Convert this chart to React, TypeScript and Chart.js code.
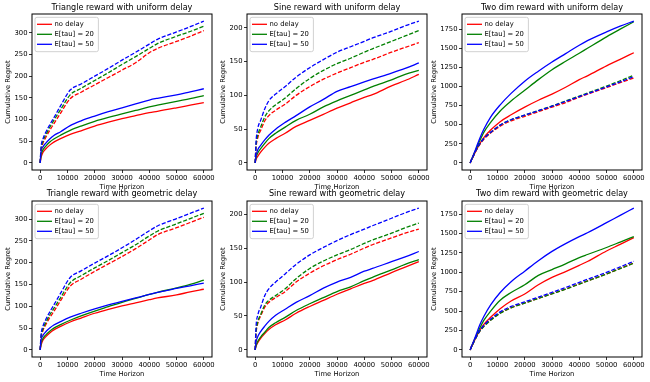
import React, { useEffect, useRef } from "react";
import { Chart, registerables } from "chart.js";
Chart.register(...registerables);

const FONT = "'DejaVu Sans', sans-serif";
const TICK_SIZE = 6.8;
const TITLE_SIZE = 8.1;

// ---------- data ----------
const X = [0, 300, 1000, 2000, 3500, 5000, 7500, 11000, 15000, 20000, 25000, 30000, 35000, 40000, 43000, 50000, 55000, 60000];
const X_TICKS = [0, 10000, 20000, 30000, 40000, 50000, 60000];
const TRI_Y_TICKS = [0, 50, 100, 150, 200, 250, 300];
const SINE_Y_TICKS = [0, 50, 100, 150, 200];
const TWO_Y_TICKS = [0, 250, 500, 750, 1000, 1250, 1500, 1750];
const LABELS = ["no delay", "E[tau] = 20", "E[tau] = 50"];
const COLORS = ["#ff0000", "#008000", "#0000ff"];
const X_LABEL = "Time Horizon";
const Y_LABEL = "Cumulative Regret";

// Triangle reward, uniform delay
const triUniNoDelay = [0, 12, 24, 32, 41, 48, 56, 66, 74, 85, 94, 102, 109, 116, 119, 127, 133, 139];
const triUniTau20 = [0, 17, 30, 38, 48, 55, 64, 75, 85, 96, 105, 113, 121, 129, 133, 142, 148, 155];
const triUniTau50 = [0, 25, 37, 45, 55, 63, 72, 86, 97, 108, 118, 127, 136, 145, 149, 157, 164, 171];
const triUniNoDelayDash = [0, 25, 45, 58, 75, 90, 115, 148, 163, 180, 197, 214, 231, 254, 264, 280, 292, 305];
const triUniTau20Dash = [0, 30, 50, 64, 82, 98, 123, 157, 172, 190, 208, 227, 245, 264, 275, 292, 303, 315];
const triUniTau50Dash = [0, 35, 55, 70, 88, 104, 132, 168, 182, 200, 218, 237, 255, 274, 285, 302, 314, 327];

// Sine reward, uniform delay
const sinUniNoDelay = [0, 5, 10, 16, 23, 29, 36, 44, 54, 63, 72, 81, 89, 97, 101, 114, 122, 131];
const sinUniTau20 = [0, 8, 15, 21, 29, 36, 44, 53, 63, 72, 83, 92, 100, 108, 113, 123, 131, 137];
const sinUniTau50 = [0, 10, 20, 26, 34, 41, 50, 60, 70, 83, 94, 106, 113, 120, 124, 133, 140, 148];
const sinUniNoDelayDash = [0, 22, 38, 48, 62, 70, 78, 87, 100, 113, 124, 133, 141, 149, 153, 164, 171, 178];
const sinUniTau20Dash = [0, 25, 42, 53, 68, 77, 86, 96, 110, 125, 137, 147, 155, 164, 169, 180, 188, 196];
const sinUniTau50Dash = [0, 30, 52, 63, 80, 92, 102, 113, 127, 141, 153, 164, 172, 180, 185, 195, 203, 210];

// Two dim reward, uniform delay
const twoUniNoDelay = [0, 25, 75, 150, 250, 330, 430, 540, 630, 730, 820, 900, 990, 1090, 1140, 1270, 1355, 1442];
const twoUniTau20 = [0, 28, 85, 165, 290, 400, 530, 680, 810, 950, 1090, 1220, 1330, 1435, 1500, 1650, 1750, 1847];
const twoUniTau50 = [0, 30, 90, 180, 320, 440, 600, 760, 910, 1070, 1200, 1320, 1430, 1540, 1600, 1715, 1790, 1856];
const twoUniNoDelayDash = [0, 25, 80, 150, 240, 310, 390, 480, 550, 610, 670, 730, 790, 860, 900, 985, 1050, 1112];
const twoUniTau20Dash = [0, 25, 80, 155, 250, 320, 400, 495, 565, 625, 685, 745, 810, 875, 915, 1005, 1075, 1148];
const twoUniTau50Dash = [0, 25, 80, 155, 250, 320, 400, 495, 565, 625, 683, 742, 805, 868, 906, 995, 1060, 1130];

// Triangle reward, geometric delay
const triGeoNoDelay = [0, 10, 22, 30, 39, 46, 54, 64, 73, 84, 93, 101, 108, 115, 119, 126, 133, 139];
const triGeoTau20 = [0, 14, 26, 34, 43, 50, 58, 68, 78, 89, 99, 109, 118, 127, 132, 142, 150, 160];
const triGeoTau50 = [0, 22, 33, 41, 50, 57, 65, 75, 84, 94, 103, 111, 119, 127, 132, 141, 147, 153];
const triGeoNoDelayDash = [0, 25, 44, 57, 74, 88, 113, 146, 162, 180, 197, 214, 232, 252, 264, 280, 292, 304];
const triGeoTau20Dash = [0, 28, 48, 62, 80, 95, 120, 154, 170, 188, 205, 223, 241, 261, 272, 289, 301, 313];
const triGeoTau50Dash = [0, 33, 54, 69, 87, 103, 130, 166, 181, 199, 216, 234, 253, 273, 284, 301, 313, 325];

// Sine reward, geometric delay
const sinGeoNoDelay = [0, 5, 11, 17, 24, 30, 37, 44, 54, 64, 73, 82, 90, 98, 102, 114, 122, 130];
const sinGeoTau20 = [0, 6, 13, 19, 26, 33, 40, 48, 58, 68, 77, 86, 93, 102, 107, 118, 126, 133];
const sinGeoTau50 = [0, 11, 20, 27, 35, 42, 51, 60, 70, 80, 91, 100, 107, 116, 120, 130, 137, 145];
const sinGeoNoDelayDash = [0, 23, 40, 50, 63, 70, 77, 86, 100, 113, 124, 133, 141, 150, 155, 165, 172, 178];
const sinGeoTau20Dash = [0, 25, 42, 52, 66, 73, 80, 90, 105, 120, 131, 140, 148, 157, 162, 172, 180, 187];
const sinGeoTau50Dash = [0, 33, 52, 63, 80, 90, 100, 112, 126, 140, 151, 161, 170, 178, 183, 194, 202, 209];

// Two dim reward, geometric delay
const twoGeoNoDelay = [0, 25, 75, 150, 250, 330, 420, 530, 630, 720, 840, 935, 1010, 1090, 1140, 1275, 1360, 1448];
const twoGeoTau20 = [0, 28, 85, 165, 280, 380, 500, 640, 740, 840, 960, 1035, 1110, 1190, 1230, 1320, 1390, 1461];
const twoGeoTau50 = [0, 30, 90, 180, 320, 430, 580, 740, 880, 1015, 1150, 1270, 1370, 1460, 1510, 1640, 1735, 1828];
const twoGeoNoDelayDash = [0, 25, 80, 150, 240, 305, 385, 475, 545, 605, 665, 725, 785, 850, 890, 980, 1050, 1120];
const twoGeoTau20Dash = [0, 25, 78, 148, 238, 302, 382, 472, 542, 603, 663, 723, 783, 848, 888, 978, 1048, 1118];
const twoGeoTau50Dash = [0, 25, 82, 155, 248, 315, 398, 490, 560, 620, 680, 742, 805, 870, 910, 1000, 1070, 1142];

const PANELS = [
  { title: "Triangle reward with uniform delay", yTicks: TRI_Y_TICKS, row: 0, col: 0,
    solid: [triUniNoDelay, triUniTau20, triUniTau50], dashed: [triUniNoDelayDash, triUniTau20Dash, triUniTau50Dash] },
  { title: "Sine reward with uniform delay", yTicks: SINE_Y_TICKS, row: 0, col: 1,
    solid: [sinUniNoDelay, sinUniTau20, sinUniTau50], dashed: [sinUniNoDelayDash, sinUniTau20Dash, sinUniTau50Dash] },
  { title: "Two dim reward with uniform delay", yTicks: TWO_Y_TICKS, row: 0, col: 2,
    solid: [twoUniNoDelay, twoUniTau20, twoUniTau50], dashed: [twoUniNoDelayDash, twoUniTau20Dash, twoUniTau50Dash] },
  { title: "Triangle reward with geometric delay", yTicks: TRI_Y_TICKS, row: 1, col: 0,
    solid: [triGeoNoDelay, triGeoTau20, triGeoTau50], dashed: [triGeoNoDelayDash, triGeoTau20Dash, triGeoTau50Dash] },
  { title: "Sine reward with geometric delay", yTicks: SINE_Y_TICKS, row: 1, col: 1,
    solid: [sinGeoNoDelay, sinGeoTau20, sinGeoTau50], dashed: [sinGeoNoDelayDash, sinGeoTau20Dash, sinGeoTau50Dash] },
  { title: "Two dim reward with geometric delay", yTicks: TWO_Y_TICKS, row: 1, col: 2,
    solid: [twoGeoNoDelay, twoGeoTau20, twoGeoTau50], dashed: [twoGeoNoDelayDash, twoGeoTau20Dash, twoGeoTau50Dash] },
];

// ---------- layout ----------
const COL_AX_LEFT = [32, 247, 462];
const COL_YLABEL_X = [8, 223, 434];
const AX_W = 180;
const ROW_AX_TOP = [14, 201];
const ROW_TITLE_Y = [7.5, 194];
const AX_H = 156;
const X_AXIS_H = 21;
const RIGHT_PAD = 7;
const LINE_W = 1.3;

const frameLegendPlugin = {
  id: "frameLegend",
  afterDraw(chart: any) {
    const { ctx, chartArea: a } = chart;
    ctx.save();
    ctx.setLineDash([]);
    ctx.strokeStyle = "#000";
    ctx.lineWidth = 1;
    ctx.strokeRect(a.left, a.top, a.right - a.left, a.bottom - a.top);

    const items = chart.data.datasets.filter((d: any) => d.label);
    ctx.font = `${TICK_SIZE}px ${FONT}`;
    const tw = Math.max(...items.map((d: any) => ctx.measureText(d.label).width));
    const bx = a.left + 3;
    const by = a.top + 3.3;
    const bw = 19.5 + tw + 4.5;
    const bh = 34.4;
    const r = 2;
    ctx.beginPath();
    ctx.moveTo(bx + r, by);
    ctx.lineTo(bx + bw - r, by);
    ctx.arcTo(bx + bw, by, bx + bw, by + r, r);
    ctx.lineTo(bx + bw, by + bh - r);
    ctx.arcTo(bx + bw, by + bh, bx + bw - r, by + bh, r);
    ctx.lineTo(bx + r, by + bh);
    ctx.arcTo(bx, by + bh, bx, by + bh - r, r);
    ctx.lineTo(bx, by + r);
    ctx.arcTo(bx, by, bx + r, by, r);
    ctx.closePath();
    ctx.fillStyle = "rgba(255,255,255,0.8)";
    ctx.fill();
    ctx.strokeStyle = "#cccccc";
    ctx.lineWidth = 0.9;
    ctx.stroke();

    items.forEach((d: any, i: number) => {
      const y = a.top + 10.3 + i * 10;
      ctx.beginPath();
      ctx.moveTo(a.left + 5, y);
      ctx.lineTo(a.left + 20, y);
      ctx.strokeStyle = d.borderColor;
      ctx.lineWidth = LINE_W;
      ctx.stroke();
      ctx.fillStyle = "#000";
      ctx.textBaseline = "middle";
      ctx.textAlign = "left";
      ctx.fillText(d.label, a.left + 22.5, y);
    });
    ctx.restore();
  },
};

function Panel({ cfg }: { cfg: any }) {
  const ref = useRef<HTMLCanvasElement | null>(null);
  const axLeft = COL_AX_LEFT[cfg.col];
  const canvasLeft = Math.floor(COL_YLABEL_X[cfg.col] - 5);
  const yW = axLeft - canvasLeft;
  const canvasTop = Math.floor(ROW_TITLE_Y[cfg.row] - 5.5);
  const titleLH = TITLE_SIZE * 1.2;
  const titlePadTop = ROW_TITLE_Y[cfg.row] - canvasTop - titleLH / 2;
  const titlePadBottom = ROW_AX_TOP[cfg.row] - canvasTop - titleLH - titlePadTop;
  const yTitlePad = COL_YLABEL_X[cfg.col] - canvasLeft - (TICK_SIZE * 1.2) / 2;
  const width = yW + AX_W + RIGHT_PAD;
  const height = ROW_AX_TOP[cfg.row] - canvasTop + AX_H + X_AXIS_H;

  useEffect(() => {
    if (!ref.current) return;
    const all = [...cfg.solid, ...cfg.dashed].flat();
    const lo = Math.min(...all);
    const hi = Math.max(...all);
    const pad = (hi - lo) * 0.05;
    const datasets: any[] = [];
    const n = 6;
    cfg.solid.forEach((arr: number[], i: number) => {
      datasets.push({
        label: LABELS[i],
        data: X.map((x, j) => ({ x, y: arr[j] })),
        borderColor: COLORS[i],
        borderWidth: LINE_W,
        pointRadius: 0,
        fill: false,
        cubicInterpolationMode: "monotone",
        order: n - datasets.length,
      });
    });
    cfg.dashed.forEach((arr: number[], i: number) => {
      datasets.push({
        label: "",
        data: X.map((x, j) => ({ x, y: arr[j] })),
        borderColor: COLORS[i],
        borderWidth: LINE_W,
        borderDash: [4.2, 1.8],
        pointRadius: 0,
        fill: false,
        cubicInterpolationMode: "monotone",
        order: n - datasets.length,
      });
    });

    const tickFont = { family: FONT, size: TICK_SIZE };
    const grid = { drawOnChartArea: false, drawTicks: true, tickLength: 3, color: "#000", lineWidth: 0.8 };

    const chart = new Chart(ref.current, {
      type: "line",
      data: { datasets },
      options: {
        animation: false,
        responsive: false,
        maintainAspectRatio: false,
        devicePixelRatio: 1,
        events: [],
        layout: { padding: { left: 0, top: 0, right: RIGHT_PAD, bottom: 0 } },
        plugins: {
          legend: { display: false },
          tooltip: { enabled: false },
          title: {
            display: true,
            text: cfg.title,
            color: "#000",
            fullSize: false,
            font: { family: FONT, size: TITLE_SIZE, weight: "normal", lineHeight: 1.2 },
            padding: { top: titlePadTop, bottom: titlePadBottom },
          },
        },
        scales: {
          x: {
            type: "linear",
            min: -3000,
            max: 63000,
            afterBuildTicks: (s: any) => { s.ticks = X_TICKS.map((v) => ({ value: v })); },
            afterFit: (s: any) => { s.height = X_AXIS_H; },
            grid,
            border: { display: false },
            ticks: { font: tickFont, color: "#000", padding: 1.5, maxRotation: 0, autoSkip: false, callback: (v: any) => String(v) },
            title: { display: true, text: X_LABEL, color: "#000", font: { ...tickFont, lineHeight: 1.2 }, padding: { top: 0, bottom: 0 } },
          },
          y: {
            type: "linear",
            min: lo - pad,
            max: hi + pad,
            afterBuildTicks: (s: any) => { s.ticks = cfg.yTicks.map((v: number) => ({ value: v })); },
            afterFit: (s: any) => { s.width = yW; },
            grid,
            border: { display: false },
            ticks: { font: tickFont, color: "#000", padding: 1.5, autoSkip: false, callback: (v: any) => String(v) },
            title: { display: true, text: Y_LABEL, color: "#000", font: { ...tickFont, lineHeight: 1.2 }, padding: { top: yTitlePad, bottom: 0 } },
          },
        },
      } as any,
      plugins: [frameLegendPlugin],
    });
    return () => chart.destroy();
  }, []);

  return (
    <canvas
      ref={ref}
      width={width}
      height={height}
      style={{ position: "absolute", left: canvasLeft, top: canvasTop, width, height }}
    />
  );
}

export default function App() {
  return (
    <div style={{ position: "absolute", left: 0, top: 0, width: 650, height: 382, background: "#fff", overflow: "hidden" }}>
      {PANELS.map((p, i) => (
        <Panel key={i} cfg={p} />
      ))}
    </div>
  );
}
